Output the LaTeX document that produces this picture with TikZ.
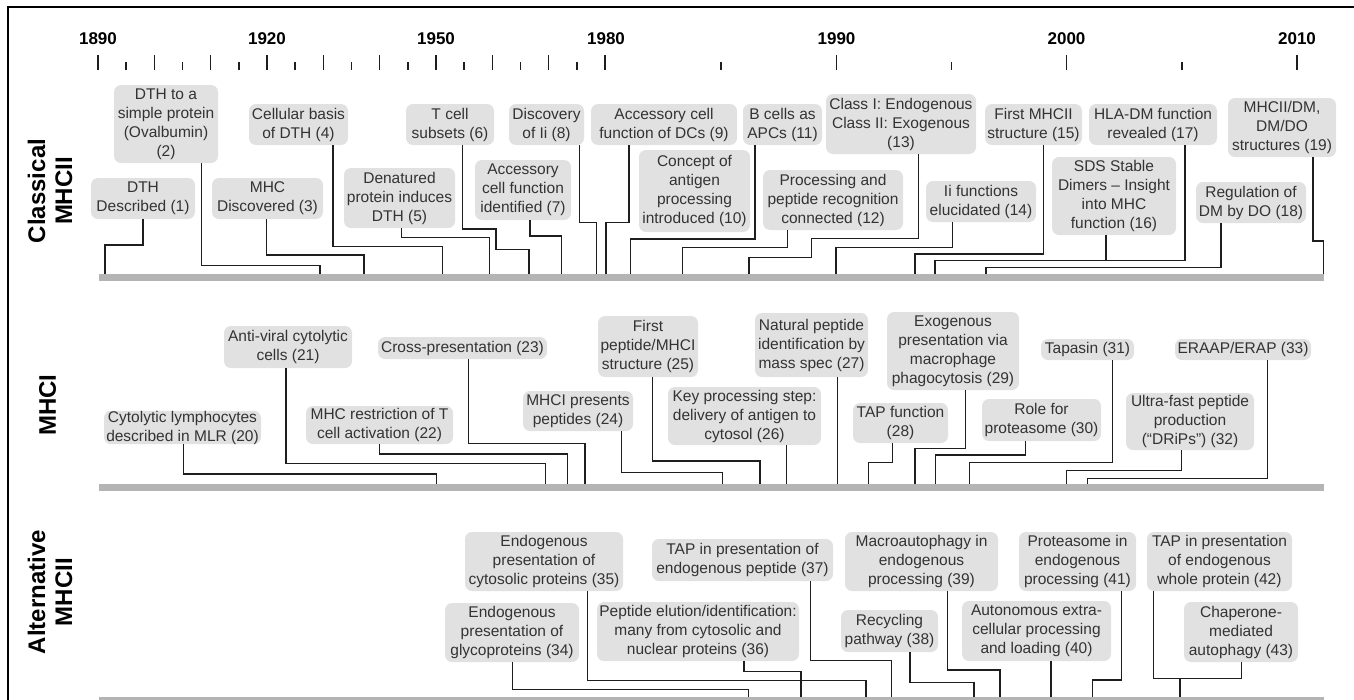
\documentclass[tikz,border=0pt]{standalone}
\usepackage{fontspec}
\setmainfont{Liberation Sans}
\definecolor{boxgray}{HTML}{E1E1E1}
\definecolor{bargray}{HTML}{B4B4B4}
\definecolor{txtgray}{HTML}{333333}
\definecolor{linecol}{HTML}{1E1E1E}
\newcommand\evbox[6]{%
  \pgfmathsetmacro\evcx{(#2+#4)/2}%
  \pgfmathsetmacro\evcy{(#3+#5)/2}%
  \pgfmathsetmacro\evw{#4-#2}%
  \pgfmathsetmacro\evh{#5-#3}%
  \node[evt,minimum width=\evw pt,minimum height=\evh pt] (#1) at (\evcx,\evcy) {#6};}
\begin{document}
\begin{tikzpicture}[x=1pt,y=-1pt,
  evt/.style={draw=none,fill=boxgray,rounded corners=7pt,inner sep=0pt,align=center,
    text=txtgray,font=\fontsize{15.5}{19}\selectfont},
  barst/.style={draw=none,fill=bargray,inner sep=0pt,minimum height=7pt,minimum width=1225pt},
  conn/.style={draw=linecol,line width=1.4pt},
  tick/.style={draw=linecol,line width=1.5pt},
  yearlab/.style={font=\bfseries\fontsize{17}{20}\selectfont,inner sep=0pt},
  seclab/.style={font=\bfseries\fontsize{24}{27}\selectfont,rotate=90,align=center,inner sep=0pt}]
\useasboundingbox (0,0) rectangle (1354,699);
% frame
\draw[line width=1.5pt] (8,705) -- (8,7) -- (1354,7);
% years and ticks
\foreach \yr/\xx in {1890/98,1920/267,1950/436,1980/606,1990/836.5,2000/1066.5,2010/1297}
  \node[yearlab] (y\yr) at (\xx,39) {\yr};
\foreach \k in {0,...,18}{
  \pgfmathsetmacro\tx{98+28.17*\k}
  \ifodd\k \draw[tick] (\tx,62) -- (\tx,70); \else \draw[tick] (\tx,55) -- (\tx,70); \fi}
\foreach \tx in {721,951.6,1182} \draw[tick] (\tx,62) -- (\tx,70);
\foreach \tx in {836.5,1066.5,1297} \draw[tick] (\tx,55) -- (\tx,70);
% section labels
\node[seclab] (sA) at (50,191) {Classical\\MHCII};
\node[seclab] (sB) at (47.5,405) {MHCI};
\node[seclab] (sC) at (50,592) {Alternative\\MHCII};
% bars
\node[barst] (barA) at (711.5,277.5) {};
\node[barst] (barB) at (711.5,487.5) {};
\node[barst] (barC) at (711.5,700.5) {};
% Classical MHCII
\evbox{c1}{91}{178}{195}{219}{DTH\\Described (1)}
\evbox{c2}{114}{85}{218}{163}{DTH to a\\simple protein\\(Ovalbumin)\\(2)}
\evbox{c3}{212}{178}{323}{219}{MHC\\Discovered (3)}
\evbox{c4}{249}{104}{348}{145}{Cellular basis\\of DTH (4)}
\evbox{c5}{344}{168}{455}{228}{Denatured\\protein induces\\DTH (5)}
\evbox{c6}{406}{104}{494}{145}{T cell\\subsets (6)}
\evbox{c7}{475}{160}{571}{220}{Accessory\\cell function\\identified (7)}
\evbox{c8}{509}{104}{584}{145}{Discovery\\of Ii (8)}
\evbox{c9}{591}{104}{737}{145}{Accessory cell\\function of DCs (9)}
\evbox{c10}{639}{150}{750}{232}{Concept of\\antigen\\processing\\introduced (10)}
\evbox{c11}{743}{104}{822}{145}{B cells as\\APCs (11)}
\evbox{c12}{763}{170}{903}{230}{Processing and\\peptide recognition\\connected (12)}
\evbox{c13}{826}{94}{976}{154}{Class I: Endogenous\\Class II: Exogenous\\(13)}
\evbox{c14}{926}{181}{1036}{222}{Ii functions\\elucidated (14)}
\evbox{c15}{985}{104}{1082}{145}{First MHCII\\structure (15)}
\evbox{c16}{1052}{157}{1176}{235}{SDS Stable\\Dimers – Insight\\into MHC\\function (16)}
\evbox{c17}{1089}{104}{1217}{145}{HLA-DM function\\revealed (17)}
\evbox{c18}{1196}{182}{1306}{223}{Regulation of\\DM by DO (18)}
\evbox{c19}{1228}{98}{1336}{157}{MHCII/DM,\\DM/DO\\structures (19)}
\draw[conn] (143,0 |- c1.south) |- (105,245) -- (105,0 |- barA.north);
\draw[conn] (201.7,0 |- c2.south) |- (320,265.7) -- (320,0 |- barA.north);
\draw[conn] (266.7,0 |- c3.south) |- (364,255) -- (364,0 |- barA.north);
\draw[conn] (333,0 |- c4.south) |- (442.7,246.7) -- (442.7,0 |- barA.north);
\draw[conn] (401.7,0 |- c5.south) |- (489.3,237.7) -- (489.3,0 |- barA.north);
\draw[conn] (462.7,0 |- c6.south) |- (496,229) |- (529,249.3) -- (529,0 |- barA.north);
\draw[conn] (530,0 |- c7.south) |- (561.7,236) -- (561.7,0 |- barA.north);
\draw[conn] (579.3,0 |- c8.south) |- (596.7,222.3) -- (596.7,0 |- barA.north);
\draw[conn] (629,0 |- c9.south) |- (606,222.3) -- (606,0 |- barA.north);
\draw[conn] (755,0 |- c11.south) |- (630.7,239) -- (630.7,0 |- barA.north);
\draw[conn] (787.5,0 |- c12.south) |- (682.7,247.5) -- (682.7,0 |- barA.north);
\draw[conn] (918.3,0 |- c13.south) |- (811.7,238.5) |- (749,257.7) -- (749,0 |- barA.north);
\draw[conn] (952.5,0 |- c14.south) |- (836,247.7) -- (836,0 |- barA.north);
\draw[conn] (1043.3,0 |- c15.south) |- (915,254) -- (915,0 |- barA.north);
\draw[conn] (1106,0 |- c16.south) -- (1106,260.7);
\draw[conn] (1185,0 |- c17.south) |- (935,260.7) -- (935,0 |- barA.north);
\draw[conn] (1221,0 |- c18.south) |- (986,267.3) -- (986,0 |- barA.north);
\draw[conn] (1313,0 |- c19.south) |- (1323.5,241) -- (1323.5,0 |- barA.north);
% MHCI
\evbox{m20}{104}{411}{261}{444}{Cytolytic lymphocytes\\described in MLR (20)}
\evbox{m21}{224}{326}{352}{368}{Anti-viral cytolytic\\cells (21)}
\evbox{m22}{306}{406}{453}{444}{MHC restriction of T\\cell activation (22)}
\evbox{m23}{378}{337}{547}{359}{Cross-presentation (23)}
\evbox{m24}{523}{391}{633}{431}{MHCI presents\\peptides (24)}
\evbox{m25}{598}{316}{698}{377}{First\\peptide/MHCI\\structure (25)}
\evbox{m26}{668}{387}{821}{445}{Key processing step:\\delivery of antigen to\\cytosol (26)}
\evbox{m27}{755}{313}{868}{377}{Natural peptide\\identification by\\mass spec (27)}
\evbox{m28}{853}{403}{948}{443}{TAP function\\(28)}
\evbox{m29}{887}{312}{1019}{390}{Exogenous\\presentation via\\macrophage\\phagocytosis (29)}
\evbox{m30}{982}{399}{1101}{441}{Role for\\proteasome (30)}
\evbox{m31}{1041}{339}{1134}{360}{Tapasin (31)}
\evbox{m32}{1126}{393}{1254}{450}{Ultra-fast peptide\\production\\(“DRiPs”) (32)}
\evbox{m33}{1175}{339}{1311}{360}{ERAAP/ERAP (33)}
\draw[conn] (183.3,0 |- m20.south) |- (436.7,474) -- (436.7,0 |- barB.north);
\draw[conn] (286,0 |- m21.south) |- (545.7,463.3) -- (545.7,0 |- barB.north);
\draw[conn] (379.3,0 |- m22.south) |- (567.7,454) -- (567.7,0 |- barB.north);
\draw[conn] (468.3,0 |- m23.south) |- (585,443.3) -- (585,0 |- barB.north);
\draw[conn] (621.7,0 |- m24.south) |- (722.3,472.7) -- (722.3,0 |- barB.north);
\draw[conn] (652.7,0 |- m25.south) |- (760,461) -- (760,0 |- barB.north);
\draw[conn] (786.7,0 |- m26.south) -- (786.7,0 |- barB.north);
\draw[conn] (837.3,0 |- m27.south) -- (837.3,0 |- barB.north);
\draw[conn] (892.7,0 |- m28.south) |- (868.3,462.3) -- (868.3,0 |- barB.north);
\draw[conn] (965.5,0 |- m29.south) |- (915,448.3) -- (915,0 |- barB.north);
\draw[conn] (1025.7,0 |- m30.south) |- (935.7,455) -- (935.7,0 |- barB.north);
\draw[conn] (1112.7,0 |- m31.south) |- (969.3,462.7) -- (969.3,0 |- barB.north);
\draw[conn] (1181.7,0 |- m32.south) |- (1066.7,470.7) -- (1066.7,0 |- barB.north);
\draw[conn] (1267.3,0 |- m33.south) |- (1087.3,478.3) -- (1087.3,0 |- barB.north);
% Alternative MHCII
\evbox{a34}{445}{603}{579}{662}{Endogenous\\presentation of\\glycoproteins (34)}
\evbox{a35}{465}{532}{623}{591}{Endogenous\\presentation of\\cytosolic proteins (35)}
\evbox{a36}{597}{602}{799}{661}{Peptide elution/identification:\\many from cytosolic and\\nuclear proteins (36)}
\evbox{a37}{652}{539}{833}{581}{TAP in presentation of\\endogenous peptide (37)}
\evbox{a38}{841}{610}{938}{652}{Recycling\\pathway (38)}
\evbox{a39}{845}{532}{998}{591}{Macroautophagy in\\endogenous\\processing (39)}
\evbox{a40}{962}{601}{1111}{661}{Autonomous extra-\\cellular processing\\and loading (40)}
\evbox{a41}{1019}{532}{1136}{591}{Proteasome in\\endogenous\\processing (41)}
\evbox{a42}{1147}{532}{1292}{591}{TAP in presentation\\of endogenous\\whole protein (42)}
\evbox{a43}{1184}{602}{1298}{662}{Chaperone-\\mediated\\autophagy (43)}
\draw[conn] (512.3,0 |- a34.south) |- (748.3,689.3) -- (748.3,0 |- barC.north);
\draw[conn] (587.7,0 |- a35.south) |- (866,680.7) -- (866,0 |- barC.north);
\draw[conn] (744,0 |- a36.south) |- (801,671.7) -- (801,0 |- barC.north);
\draw[conn] (810.7,0 |- a37.south) |- (891.7,660.7) -- (891.7,0 |- barC.north);
\draw[conn] (910,0 |- a38.south) |- (974,682.7) -- (974,0 |- barC.north);
\draw[conn] (947.7,0 |- a39.south) |- (1000,670) -- (1000,0 |- barC.north);
\draw[conn] (1051,0 |- a40.south) -- (1051,0 |- barC.north);
\draw[conn] (1121.7,0 |- a41.south) |- (1092.3,680) -- (1092.3,0 |- barC.north);
\draw[conn] (1153.3,0 |- a42.south) |- (1180,678.3) -- (1180,0 |- barC.north);
\draw[conn] (1241.7,0 |- a43.south) |- (1180,678.3);
\end{tikzpicture}
\end{document}
